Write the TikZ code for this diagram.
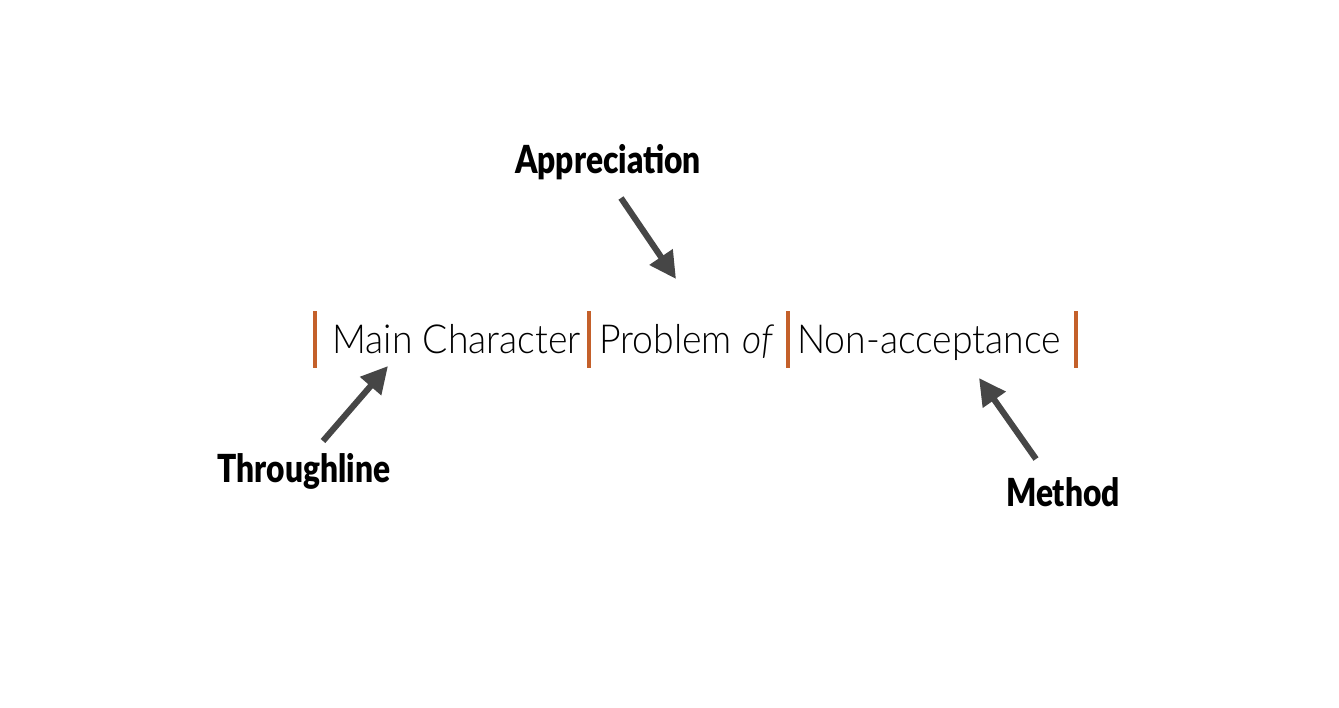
\documentclass[tikz,border=0pt]{standalone}
\usepackage{fontspec}
\setmainfont{Lato}
\newfontfamily\partfont[FakeStretch=0.935]{Lato Light}
\newfontfamily\labfont[FakeStretch=0.82]{Lato Black}
\usetikzlibrary{arrows.meta,positioning}
\definecolor{barorange}{HTML}{C4602A}
\definecolor{arrowgray}{HTML}{464646}

\tikzset{
  part/.style={anchor=base west, inner sep=0pt, font=\partfont\fontsize{30}{36}\selectfont},
  label/.style={anchor=base, inner sep=0pt, font=\labfont\fontsize{29}{34}\selectfont},
  pointer/.style={-{Triangle[length=20pt,width=20pt]}, arrowgray, line width=4.6pt},
  divider/.style={barorange, line width=2.4pt}
}

\begin{document}
\begin{tikzpicture}[x=0.75pt, y=-0.75pt]
  \useasboundingbox (0,0) rectangle (1339,707);
  % sentence parts
  \node[part] (mc) at (332,353) {Main Character};
  \node[part] (prob) at (599,353) {Problem \textit{of}};
  \node[part] (nonacc) at (797,353) {Non-acceptance};
  % dividers
  \foreach \bx in {315,589,788,1076}
    \draw[divider] (\bx,311) -- (\bx,368);
  % labels
  \node[label] (appr) at (608,173) {Appreciation};
  \node[label] (thru) at (304,482) {Throughline};
  \node[label] (meth) at (1063,506) {Method};
  % arrow ends
  \coordinate (appr-s) at (621,198);
  \coordinate (appr-t) at (676,279);
  \coordinate (thru-s) at (323,441);
  \coordinate (thru-t) at (388,366);
  \coordinate (meth-s) at (1036,459);
  \coordinate (meth-t) at (979,378);
  \draw[pointer] (appr-s) -- (appr-t);
  \draw[pointer] (thru-s) -- (thru-t);
  \draw[pointer] (meth-s) -- (meth-t);
\end{tikzpicture}
\end{document}
